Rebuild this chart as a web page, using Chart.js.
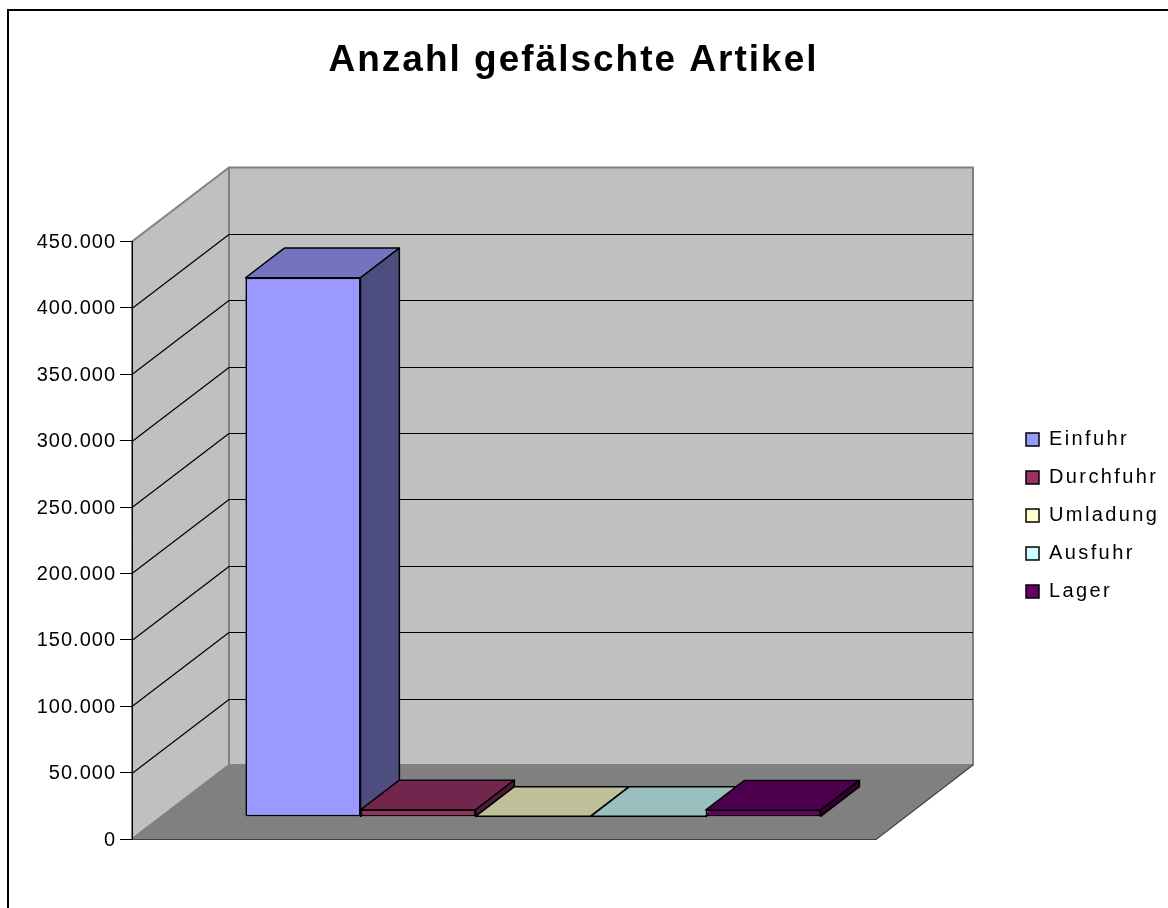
<!DOCTYPE html>
<html>
<head>
<meta charset="utf-8">
<script src="https://cdn.jsdelivr.net/npm/chart.js@4.4.1/dist/chart.umd.min.js"></script>
<style>
  html, body { margin: 0; padding: 0; background: #fff; overflow: hidden; }
  #frame { position: absolute; left: 7px; top: 9px; width: 1400px; height: 1100px;
           border-left: 2px solid #000; border-top: 2px solid #000; }
  #chart { position: absolute; left: 0; top: 0; }
</style>
</head>
<body>
<div id="frame"></div>
<canvas id="chart" width="1168" height="908"></canvas>
<script>
// data
const categories = ['Anzahl'];
const seriesNames = ['Einfuhr', 'Durchfuhr', 'Umladung', 'Ausfuhr', 'Lager'];
const seriesValues = [406000, 5300, 300, 200, 5100];
const seriesColors = ['#9999FF', '#993366', '#FFFFCC', '#CCFFFF', '#660066'];
const yMax = 450000;
const yStep = 50000;

// fake 3d look (oblique depth)
const DEPTH_X = 97, DEPTH_Y = -74;
const BAR_FRONT = 0.3, BAR_DEPTH = 0.4;
const FONT = '"Liberation Sans", Arial, sans-serif';

function shade(hex, f) {
    const n = parseInt(hex.slice(1), 16);
    const r = Math.round(((n >> 16) & 255) * f);
    const g = Math.round(((n >> 8) & 255) * f);
    const b = Math.round((n & 255) * f);
    return `rgb(${r},${g},${b})`;
}

function poly(ctx, pts, fill, stroke, lw) {
    ctx.beginPath();
    ctx.moveTo(pts[0][0], pts[0][1]);
    for (let i = 1; i < pts.length; i++) ctx.lineTo(pts[i][0], pts[i][1]);
    ctx.closePath();
    if (fill) { ctx.fillStyle = fill; ctx.fill(); }
    if (stroke) { ctx.strokeStyle = stroke; ctx.lineWidth = lw || 1; ctx.stroke(); }
}

const box3d = {
    id: 'box3d',
    beforeLayout(chart) {
        const lg = chart.legend, tb = chart.titleBlock;
        if (lg && !lg._patched) {
            const fit = lg.fit, draw = lg.draw;
            lg.fit = function () { fit.call(this); this.width = chart.width - 876; };
            lg.draw = function (a) { const c = this.ctx; c.save(); c.letterSpacing = '2.4px'; draw.call(this, a); c.restore(); };
            lg._patched = true;
        }
        if (tb && !tb._patched) {
            const draw = tb.draw;
            tb.draw = function (a) { const c = this.ctx; c.save(); c.letterSpacing = '2px'; draw.call(this, a); c.restore(); };
            tb._patched = true;
        }
    },
    afterLayout(chart) {
        const lg = chart.legend, tb = chart.titleBlock;
        lg.left = 1008; lg.right = chart.width;
        lg.top = 411.5; lg.bottom = chart.chartArea.bottom;
        tb.left = -10.5; tb.right = chart.width - 10.5;
    },
    beforeDraw(chart) {
        const ctx = chart.ctx, a = chart.chartArea, y = chart.scales.y;
        const y0 = y.getPixelForValue(0), yt = y.getPixelForValue(y.max);
        const L = a.left, R = a.right;
        ctx.save();
        ctx.lineJoin = 'round';
        // side wall
        poly(ctx, [[L, yt], [L + DEPTH_X, yt + DEPTH_Y], [L + DEPTH_X, y0 + DEPTH_Y], [L, y0]], '#C0C0C0', '#808080', 2);
        // back wall
        poly(ctx, [[L + DEPTH_X, yt + DEPTH_Y], [R + DEPTH_X, yt + DEPTH_Y], [R + DEPTH_X, y0 + DEPTH_Y], [L + DEPTH_X, y0 + DEPTH_Y]], '#C0C0C0', '#808080', 2);
        // floor
        poly(ctx, [[L, y0], [R, y0], [R + DEPTH_X, y0 + DEPTH_Y], [L + DEPTH_X, y0 + DEPTH_Y]], '#808080', null);
        ctx.beginPath();
        ctx.moveTo(L, y0 + 0.5); ctx.lineTo(R, y0 + 0.5); ctx.lineTo(R + DEPTH_X, y0 + DEPTH_Y);
        ctx.strokeStyle = '#404040'; ctx.lineWidth = 1.2; ctx.stroke();
        // grid lines on side and back wall
        ctx.strokeStyle = '#000'; ctx.lineWidth = 1.2;
        y.ticks.forEach(t => {
            if (t.value <= 0 || t.value >= y.max) return;
            const py = Math.round(y.getPixelForValue(t.value)) + 0.5;
            ctx.beginPath();
            ctx.moveTo(L, py);
            ctx.lineTo(L + DEPTH_X, py + DEPTH_Y);
            ctx.lineTo(R + DEPTH_X, py + DEPTH_Y);
            ctx.stroke();
        });
        ctx.restore();
        ctx.letterSpacing = '1px';
    },
    beforeDatasetsDraw(chart) {
        chart.ctx.save();
        chart.ctx.translate(DEPTH_X * BAR_FRONT, DEPTH_Y * BAR_FRONT);
    },
    afterDatasetsDraw(chart) {
        const ctx = chart.ctx;
        const bx = DEPTH_X * BAR_DEPTH, by = DEPTH_Y * BAR_DEPTH;
        ctx.lineJoin = 'round';
        chart.data.datasets.forEach((ds, i) => {
            const el = chart.getDatasetMeta(i).data[0];
            if (!el) return;
            const p = el.getProps(['x', 'y', 'base', 'width'], true);
            const l = p.x - p.width / 2, r = p.x + p.width / 2;
            const top = Math.min(p.y, p.base), bot = Math.max(p.y, p.base);
            poly(ctx, [[l, top], [r, top], [r + bx, top + by], [l + bx, top + by]], shade(seriesColors[i], 0.75), '#000', 1.5);
            poly(ctx, [[r, top], [r + bx, top + by], [r + bx, bot + by], [r, bot]], shade(seriesColors[i], 0.5), '#000', 1.5);
            el.draw(ctx);
        });
        ctx.restore();
    }
};

const fmt = v => String(v).replace(/\B(?=(\d{3})+(?!\d))/g, '.');

new Chart(document.getElementById('chart'), {
    type: 'bar',
    data: {
        labels: categories,
        datasets: seriesNames.map((name, i) => ({
            label: name,
            data: [seriesValues[i]],
            backgroundColor: seriesColors[i],
            borderColor: '#000',
            borderWidth: 1.5,
            borderSkipped: false,
            categoryPercentage: 0.773,
            barPercentage: 1,
            clip: false
        }))
    },
    options: {
        responsive: false,
        devicePixelRatio: 1,
        animation: false,
        events: [],
        layout: { padding: { left: 0, right: 0, top: 0, bottom: 69 } },
        plugins: {
            title: {
                display: true,
                text: 'Anzahl gefälschte Artikel',
                color: '#000',
                font: { family: FONT, size: 37, weight: 'bold', lineHeight: 1.2 },
                padding: { top: 38.3, bottom: 158.8 }
            },
            legend: {
                display: true,
                position: 'right',
                align: 'start',
                labels: {
                    color: '#000',
                    font: { family: FONT, size: 20 },
                    boxWidth: 13,
                    boxHeight: 13,
                    padding: 18
                }
            },
            tooltip: { enabled: false }
        },
        scales: {
            x: { display: false },
            y: {
                min: 0,
                max: yMax,
                ticks: {
                    stepSize: yStep,
                    color: '#000',
                    padding: 4,
                    labelOffset: 1,
                    font: { family: FONT, size: 20 },
                    callback: v => fmt(v)
                },
                grid: { drawOnChartArea: false, drawTicks: true, tickLength: 12, tickColor: '#000', tickWidth: 1 },
                border: { display: true, color: '#000', width: 1 },
                afterFit: s => { s.width = 132; }
            }
        }
    },
    plugins: [box3d]
});
</script>
</body>
</html>
